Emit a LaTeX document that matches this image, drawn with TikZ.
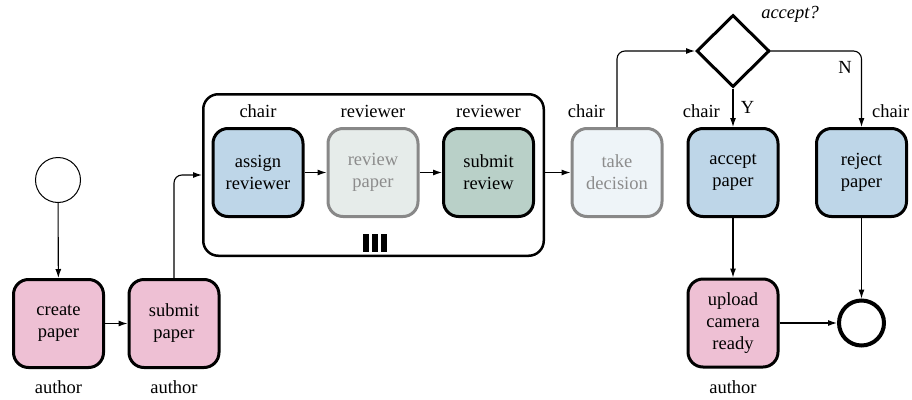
\documentclass[tikz,border=0pt]{standalone}
\usepackage{fontspec}
\setmainfont{Liberation Serif}
\usetikzlibrary{shapes.geometric,arrows.meta}
\definecolor{pinkfill}{RGB}{238,192,212}
\definecolor{bluefill}{RGB}{190,214,232}
\definecolor{grayfill}{RGB}{230,236,234}
\definecolor{greenfill}{RGB}{185,208,200}
\definecolor{lightbluefill}{RGB}{238,244,248}
\definecolor{dimline}{RGB}{136,136,136}
\definecolor{dimtext}{RGB}{140,140,140}
\begin{document}
\begin{tikzpicture}[x=1pt,y=-1pt,
  txt/.style={font=\rmfamily\fontsize{18.5}{22}\selectfont},
  task/.style={txt, draw, line width=3pt, rounded corners=15pt, minimum width=90pt, minimum height=88pt, align=center, inner sep=0pt},
  dimtask/.style={task, draw=dimline, text=dimtext},
  lbl/.style={txt, inner sep=0pt},
  arr/.style={-{Latex[length=9pt,width=6pt]}, line width=1.1pt},
]
\useasboundingbox (0,0) rectangle (912,399);

% group
\node[draw, line width=2.5pt, rounded corners=15pt, minimum width=340.5pt, minimum height=161.5pt, inner sep=0pt] (group) at (373.5,175) {};

% events
\node[draw, circle, line width=1pt, minimum size=45pt, inner sep=0pt] (start) at (58,180) {};
\node[draw, circle, line width=4pt, minimum size=45pt, inner sep=0pt] (end) at (861.5,323) {};

% tasks
\node[task, fill=pinkfill] (create) at (58.5,323.5) {create\\paper};
\node[task, fill=pinkfill] (submit) at (174,323.5) {submit\\paper};
\node[task, fill=bluefill] (assign) at (258,172.5) {assign\\reviewer};
\node[dimtask, fill=grayfill] (review) at (373,172.5) {review\\paper};
\node[task, fill=greenfill] (subrev) at (488.5,172.5) {submit\\review};
\node[dimtask, fill=lightbluefill] (take) at (617,172.5) {take\\decision};
\node[task, fill=bluefill] (accept) at (733,172.5) {accept\\paper};
\node[task, fill=bluefill] (reject) at (861.5,172.5) {reject\\paper};
\node[task, fill=pinkfill] (upload) at (733,323) {upload\\camera\\ready};

% gateway
\node[draw, diamond, line width=3pt, minimum width=73pt, minimum height=72pt, inner sep=0pt] (gw) at (733,51) {};
\node[lbl, font=\rmfamily\fontsize{18.5}{22}\selectfont\itshape] (q) at (790,14) {accept?};

% role labels
\node[lbl] (l1) at (58.5,387) {author};
\node[lbl] (l2) at (174,387) {author};
\node[lbl] (l3) at (258,111) {chair};
\node[lbl] (l4) at (373,111) {reviewer};
\node[lbl] (l5) at (488.5,111) {reviewer};
\node[lbl, anchor=east] (l6) at (605,111) {chair};
\node[lbl, anchor=east] (l7) at (720,111) {chair};
\node[lbl, anchor=west] (l8) at (872,111) {chair};
\node[lbl] (l9) at (733,387) {author};
\node[lbl] (ly) at (747.5,107) {Y};
\node[lbl] (ln) at (845,67) {N};

% multi-instance marker
\fill (363,234) rectangle (369,252);
\fill (372,234) rectangle (378,252);
\fill (381,234) rectangle (387,252);

% connectors
\draw[arr] (start) -- (create);
\draw[arr] (create) -- (submit);
\draw[arr, rounded corners=8pt] (submit.north) |- (group.west);
\draw[arr] (assign) -- (review);
\draw[arr] (review) -- (subrev);
\draw[arr] (group.east |- take.west) -- (take.west);
\draw[arr, rounded corners=8pt] (take.north) |- (gw.west);
\draw[arr, rounded corners=8pt] (gw.east) -| (reject.north);
\draw[arr] (gw.south) -- (accept.north);
\draw[arr] (accept.south) -- (upload.north);
\draw[arr] (reject.south) -- (end.north);
\draw[arr] (upload.east) -- (end.west);
\end{tikzpicture}
\end{document}
